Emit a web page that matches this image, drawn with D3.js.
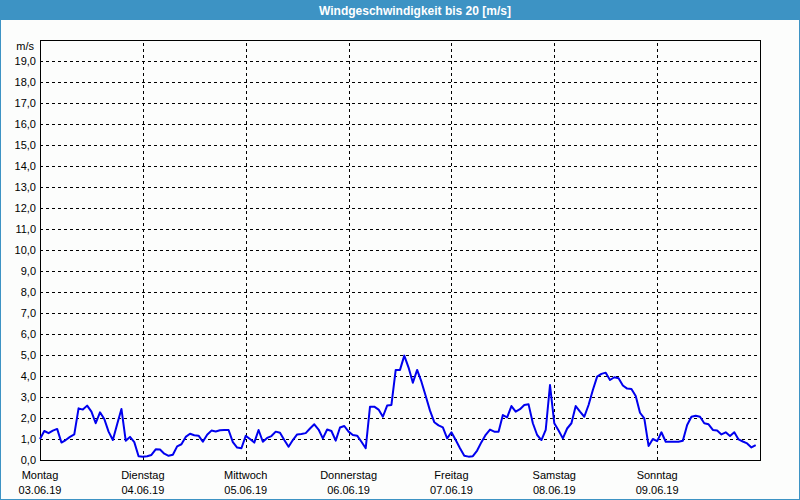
<html>
<head>
<meta charset="utf-8">
<script src="https://cdn.jsdelivr.net/npm/d3@7"></script>
<style>
body{margin:0;background:#fcfdfc;}
svg{display:block;font-family:"Liberation Sans",Arial,sans-serif;}
.grid line{stroke:#000;stroke-dasharray:3,3;shape-rendering:crispEdges;}
.grid path{display:none;}
.ylab path{display:none;}
.ylab text{font-size:11px;fill:#000;}
</style>
</head>
<body>
<svg id="chart" width="800" height="500"></svg>
<script>
const title = 'Windgeschwindigkeit bis 20 [m/s]';
const unit = 'm/s';
const dayNames = ['Montag', 'Dienstag', 'Mittwoch', 'Donnerstag', 'Freitag', 'Samstag', 'Sonntag'];
const dayDates = ['03.06.19', '04.06.19', '05.06.19', '06.06.19', '07.06.19', '08.06.19', '09.06.19'];
const yTicks = [0,1,2,3,4,5,6,7,8,9,10,11,12,13,14,15,16,17,18,19];
// hourly wind speed, m/s, Monday 00:00 onwards
const speed = [
  1.00,1.38,1.28,1.40,1.48,0.83,0.95,1.10,1.22,2.46,2.40,2.59,2.30,1.75,2.27,1.95,1.35,0.95,1.70,2.43,0.92,1.10,0.85,0.18,
  0.16,0.18,0.24,0.51,0.50,0.30,0.20,0.25,0.65,0.75,1.10,1.25,1.18,1.16,0.87,1.20,1.40,1.36,1.42,1.43,1.43,0.85,0.59,0.56,
  1.15,1.00,0.83,1.43,0.87,1.05,1.14,1.35,1.30,0.95,0.63,0.95,1.22,1.24,1.28,1.50,1.70,1.45,1.03,1.45,1.38,0.92,1.55,1.62,
  1.35,1.19,1.16,0.87,0.56,2.54,2.54,2.40,2.06,2.59,2.62,4.29,4.29,4.97,4.40,3.68,4.29,3.73,3.05,2.35,1.80,1.65,1.55,1.03,
  1.32,0.95,0.56,0.20,0.16,0.18,0.45,0.85,1.20,1.45,1.35,1.35,2.14,2.03,2.57,2.30,2.42,2.62,2.65,1.75,1.19,0.95,1.43,3.57,
  1.75,1.40,1.03,1.50,1.75,2.57,2.30,2.06,2.62,3.33,3.97,4.10,4.16,3.81,3.94,3.89,3.55,3.40,3.38,3.05,2.25,1.98,0.67,1.00,
  0.90,1.32,0.87,0.87,0.87,0.87,0.92,1.67,2.06,2.11,2.06,1.75,1.70,1.43,1.40,1.22,1.32,1.14,1.32,0.98,0.88,0.79,0.60,0.71
];

const width = 800, height = 500;
const margin = {top:40, left:40, right:40, bottom:40};
const plotW = width - margin.left - margin.right;
const plotH = height - margin.top - margin.bottom;

const x = d3.scaleLinear().domain([0, 168]).range([margin.left, margin.left + plotW]);
const y = d3.scaleLinear().domain([0, 20]).range([margin.top + plotH, margin.top]);

const svg = d3.select('#chart');

// window frame + title bar
svg.append('rect').attr('x',0.5).attr('y',0.5).attr('width',width-1).attr('height',height-1)
  .attr('fill','#fcfdfc').attr('stroke','#3d93c4');
svg.append('rect').attr('x',0).attr('y',0).attr('width',width).attr('height',20).attr('fill','#3d93c4');
svg.append('text').attr('x',415).attr('y',14.5).attr('text-anchor','middle')
  .attr('fill','#fff').attr('font-weight','bold').attr('font-size','12px').text(title);

// grid
svg.append('g').attr('class','grid')
  .attr('transform',`translate(${margin.left},0)`)
  .call(d3.axisLeft(y).tickValues(yTicks.slice(1)).tickSize(-plotW).tickFormat(''));
svg.append('g').attr('class','grid')
  .attr('transform',`translate(0,${margin.top + plotH})`)
  .call(d3.axisBottom(x).tickValues(dayNames.map((d,i)=>i*24).slice(1)).tickSize(-plotH).tickFormat(''));

// frame
svg.append('rect').attr('x',margin.left+0.5).attr('y',margin.top+0.5)
  .attr('width',plotW).attr('height',plotH)
  .attr('fill','none').attr('stroke','#000').attr('shape-rendering','crispEdges');

// y labels
svg.append('g').attr('class','ylab')
  .attr('transform',`translate(${margin.left},0)`)
  .call(d3.axisLeft(y).tickValues(yTicks).tickSize(0).tickPadding(4)
    .tickFormat(d=>d.toFixed(1).replace('.',',')));
svg.append('text').attr('x',34).attr('y',50).attr('text-anchor','end')
  .attr('font-size','11px').text(unit);

// x labels
const days = svg.append('g').selectAll('g')
  .data(dayNames)
  .enter().append('g')
    .attr('transform',(d,i)=>`translate(${x(i*24)},0)`);
days.append('text').attr('y',479).attr('text-anchor','middle').attr('font-size','11px').text(d=>d);
days.append('text').attr('y',494).attr('text-anchor','middle').attr('font-size','11px')
  .text((d,i)=>dayDates[i]);

// line
svg.append('path')
  .datum(speed)
  .attr('fill','none')
  .attr('stroke','#0000ee')
  .attr('stroke-width',2)
  .attr('stroke-linejoin','round')
  .attr('d', d3.line().x((d,i)=>x(i)).y(d=>y(d)));
</script>
</body>
</html>
